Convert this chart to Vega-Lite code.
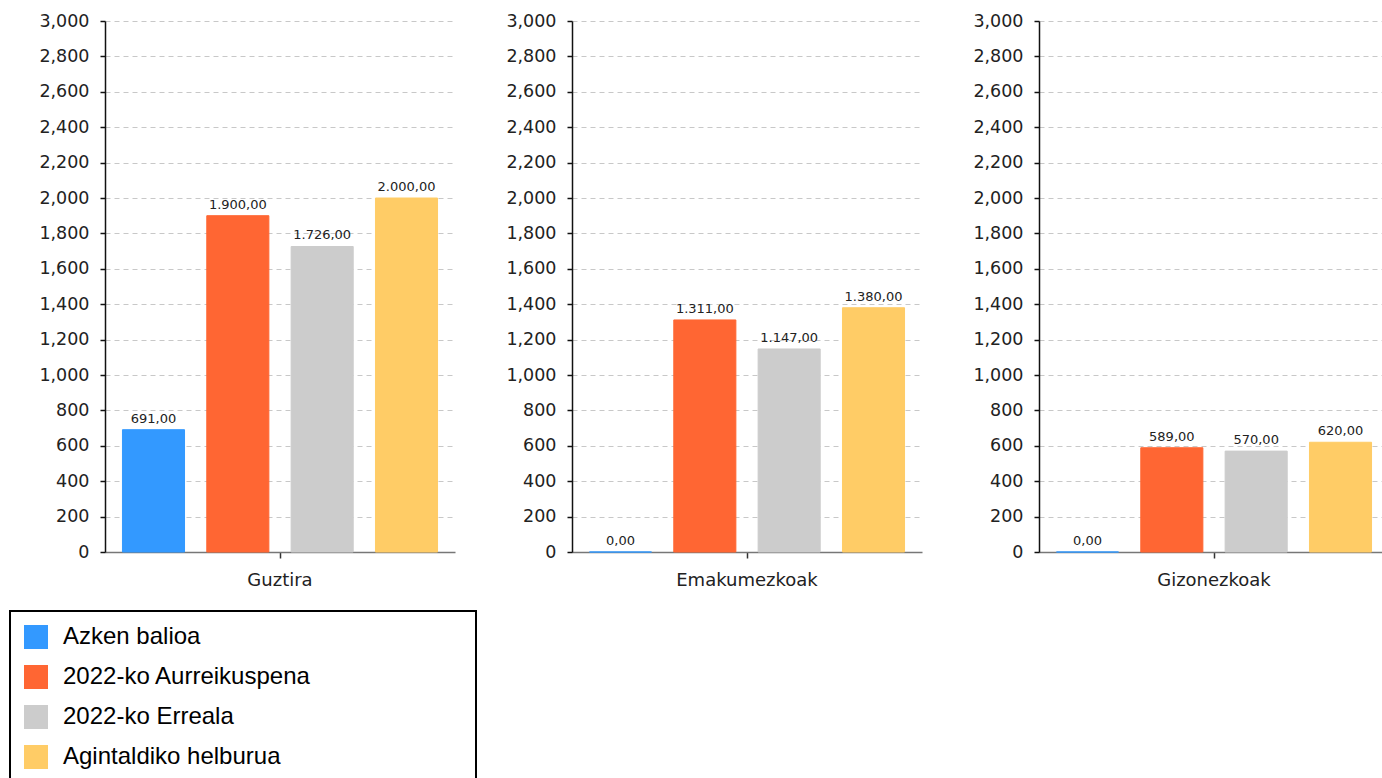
{
  "$schema": "https://vega.github.io/schema/vega-lite/v6.json",
  "padding": {"left": 9, "top": 12, "right": 0, "bottom": 0},
  "data": {"values": [
    {"grupo": "Guztira", "serie": "Azken balioa", "balioa": 691},
    {"grupo": "Guztira", "serie": "2022-ko Aurreikuspena", "balioa": 1900},
    {"grupo": "Guztira", "serie": "2022-ko Erreala", "balioa": 1726},
    {"grupo": "Guztira", "serie": "Agintaldiko helburua", "balioa": 2000},
    {"grupo": "Emakumezkoak", "serie": "Azken balioa", "balioa": 0},
    {"grupo": "Emakumezkoak", "serie": "2022-ko Aurreikuspena", "balioa": 1311},
    {"grupo": "Emakumezkoak", "serie": "2022-ko Erreala", "balioa": 1147},
    {"grupo": "Emakumezkoak", "serie": "Agintaldiko helburua", "balioa": 1380},
    {"grupo": "Gizonezkoak", "serie": "Azken balioa", "balioa": 0},
    {"grupo": "Gizonezkoak", "serie": "2022-ko Aurreikuspena", "balioa": 589},
    {"grupo": "Gizonezkoak", "serie": "2022-ko Erreala", "balioa": 570},
    {"grupo": "Gizonezkoak", "serie": "Agintaldiko helburua", "balioa": 620}
  ]},
  "facet": {
    "column": {
      "field": "grupo",
      "type": "nominal",
      "sort": ["Guztira", "Emakumezkoak", "Gizonezkoak"],
      "title": null,
      "header": {"labels": false, "title": null}
    }
  },
  "spacing": 50,
  "spec": {
    "width": 350,
    "height": 531,
    "encoding": {
      "x": {
        "field": "grupo",
        "type": "nominal",
        "scale": {"paddingInner": 0, "paddingOuter": 0},
        "axis": {
          "title": null,
          "labelAngle": 0,
          "labelFont": "DejaVu Sans",
          "labelFontSize": 18,
          "labelColor": "#222222",
          "labelPadding": 13,
          "domainColor": "#777777",
          "domainWidth": 1.5,
          "tickColor": "#333333",
          "tickSize": 6,
          "tickWidth": 1.5,
          "grid": false
        }
      },
      "xOffset": {
        "field": "serie",
        "type": "nominal",
        "scale": {
          "domain": ["Azken balioa", "2022-ko Aurreikuspena", "2022-ko Erreala", "Agintaldiko helburua"],
          "paddingInner": 0.264,
          "paddingOuter": 0.207
        }
      },
      "y": {
        "field": "balioa",
        "type": "quantitative",
        "scale": {"domain": [0, 3000], "nice": false},
        "axis": {
          "title": null,
          "values": [0, 200, 400, 600, 800, 1000, 1200, 1400, 1600, 1800, 2000, 2200, 2400, 2600, 2800, 3000],
          "format": ",d",
          "labelFont": "DejaVu Sans",
          "labelFontSize": 17.5,
          "labelColor": "#222222",
          "labelPadding": 11,
          "domainColor": "#111111",
          "domainWidth": 1.5,
          "tickColor": "#111111",
          "tickSize": 5,
          "tickWidth": 1.5,
          "grid": true,
          "gridColor": "#c8c8c8",
          "gridDash": [5, 4],
          "gridWidth": 1
        }
      }
    },
    "layer": [
      {
        "mark": {"type": "bar", "strokeWidth": 1},
        "encoding": {
          "color": {
            "field": "serie",
            "type": "nominal",
            "scale": {
              "domain": ["Azken balioa", "2022-ko Aurreikuspena", "2022-ko Erreala", "Agintaldiko helburua"],
              "range": ["#3399ff", "#ff6633", "#cccccc", "#ffcc66"]
            },
            "legend": {
              "title": "\u2800\u2800\u2800\u2800\u2800\u2800\u2800\u2800",
              "titleOrient": "right",
              "titleAngle": 0,
              "titleFont": "DejaVu Sans",
              "titleFontSize": 23.6,
              "titlePadding": 3,
              "titleLimit": 1000,
              "orient": "none",
              "legendX": -95,
              "legendY": 590,
              "symbolType": "square",
              "symbolSize": 576,
              "symbolStrokeWidth": 0,
              "symbolOpacity": 1,
              "labelFont": "Liberation Sans",
              "labelFontSize": 24,
              "labelColor": "#000000",
              "labelOffset": 15,
              "rowPadding": 16,
              "padding": 14,
              "labelLimit": 500
            }
          },
          "stroke": {
            "field": "serie",
            "type": "nominal",
            "scale": {
              "domain": ["Azken balioa", "2022-ko Aurreikuspena", "2022-ko Erreala", "Agintaldiko helburua"],
              "range": ["#3399ff", "#ff6633", "#cccccc", "#ffcc66"]
            },
            "legend": null
          }
        }
      },
      {
        "mark": {
          "type": "text",
          "baseline": "bottom",
          "dy": -4,
          "font": "DejaVu Sans",
          "fontSize": 13,
          "color": "#222222",
          "text": {"expr": "replace(replace(replace(format(datum.balioa, ',.2f'), ',', '_'), '.', ','), '_', '.')"}
        },
        "encoding": {}
      }
    ]
  },
  "resolve": {"scale": {"x": "independent", "xOffset": "independent"}, "axis": {"y": "independent"}},
  "config": {
    "view": {"stroke": null},
    "background": "#ffffff",
    "legend": {"strokeWidth": 2, "strokeColor": "#000000"}
  }
}
